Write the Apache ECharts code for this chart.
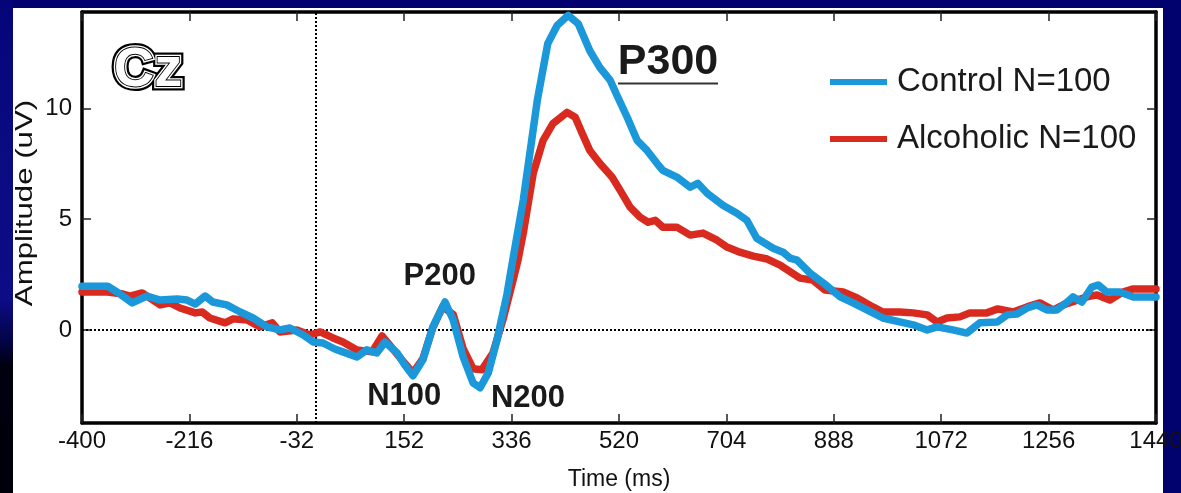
<!DOCTYPE html>
<html><head><meta charset="utf-8">
<script src="https://cdn.jsdelivr.net/npm/echarts@6/dist/echarts.min.js"></script>
<style>
html,body{margin:0;padding:0;overflow:hidden;background:#02026e;}
#strip{position:absolute;left:0;top:0;width:13px;height:493px;
 background:linear-gradient(180deg,#05057a 0px,#0a0a80 120px,#0c0c86 300px,#030340 345px,#00000f 365px,#00000c 493px);}
#panel{position:absolute;left:13px;top:8px;width:1150px;height:485px;background:#fff;}
#c{position:absolute;left:0;top:0;width:1181px;height:493px;}
</style>
</head><body>
<div id="strip"></div><div id="panel"></div><div id="c"></div>
<script>
// ---- data ----
const xTicks = [-400,-216,-32,152,336,520,704,888,1072,1256,1440];
const yTicks = [0,5,10];
const seriesNames = ['Control N=100','Alcoholic N=100'];

const controlTime = [-400,-356,-340,-314,-289,-266,-237,-220,-206,-189,-176,-152,-129,-107,-83,-61,-44,-21,-4,13,33,47,71,88,105,119,140,153,167,184,201,222,236,253,270,282,296,311,328,338,356,380,398,414,433,450,470,487,505,518,534,551,568,585,595,619,642,655,671,698,722,739,756,784,801,813,825,847,870,899,921,955,972,1001,1024,1048,1065,1092,1116,1138,1168,1185,1202,1219,1236,1253,1270,1288,1298,1313,1330,1341,1356,1378,1401,1440];
const controlAmp = [1.97,1.97,1.71,1.22,1.53,1.35,1.40,1.35,1.17,1.53,1.26,1.13,0.81,0.54,0.14,0.00,0.09,-0.23,-0.54,-0.59,-0.86,-0.99,-1.22,-0.90,-1.04,-0.54,-1.04,-1.58,-2.07,-1.35,0.14,1.26,0.45,-1.22,-2.39,-2.61,-1.94,-0.45,1.60,3.15,5.86,10.36,12.93,13.74,14.20,13.83,12.60,11.85,11.26,10.50,9.60,8.56,8.10,7.52,7.20,6.90,6.44,6.62,6.17,5.63,5.27,4.95,4.14,3.69,3.51,3.24,3.15,2.57,2.12,1.49,1.22,0.77,0.54,0.36,0.23,0.00,0.14,0.00,-0.14,0.32,0.36,0.68,0.72,0.99,1.13,0.90,0.90,1.26,1.49,1.26,1.94,2.03,1.71,1.71,1.49,1.49];

const alcoholicTime = [-400,-356,-330,-318,-297,-266,-249,-232,-206,-194,-181,-155,-141,-117,-95,-74,-61,-32,-9,8,30,47,71,97,114,131,148,167,184,201,218,236,253,270,285,304,321,338,347,356,373,390,407,431,445,457,470,487,508,522,539,556,570,582,595,619,642,664,688,705,727,750,774,796,830,852,873,904,928,955,972,1001,1024,1048,1065,1082,1104,1121,1150,1169,1195,1219,1241,1264,1281,1322,1339,1361,1383,1401,1440];
const alcoholicAmp = [1.71,1.71,1.62,1.53,1.67,1.13,1.22,0.99,0.77,0.81,0.54,0.32,0.50,0.45,0.14,0.32,-0.09,0.00,-0.23,-0.09,-0.36,-0.54,-0.90,-0.99,-0.27,-0.81,-1.35,-1.94,-1.30,0.10,1.05,0.70,-0.85,-1.75,-1.80,-1.04,0.45,2.20,3.15,4.37,7.07,8.56,9.32,9.82,9.60,8.87,8.10,7.52,6.90,6.30,5.54,5.09,4.86,4.95,4.64,4.64,4.28,4.37,4.05,3.74,3.51,3.33,3.20,2.93,2.34,2.25,1.80,1.71,1.44,1.04,0.81,0.81,0.77,0.68,0.36,0.54,0.59,0.77,0.77,0.95,0.81,1.04,1.22,0.90,1.13,1.49,1.58,1.35,1.71,1.85,1.85];

const annoText = ['P300','P200','N100','N200'];
const annoTime = [604,213,152,364];
const annoAmp = [12.07,2.43,-3.02,-3.10];
const panelLabel = 'Cz';
const panelLabelAt = [-287,11.7];

// ---- chart ----
const FONT = '"Liberation Sans", Arial, Helvetica, sans-serif';
const BLUE = '#1a98da', RED = '#d92a20';
const chart = echarts.init(document.getElementById('c'), null, {renderer:'canvas'});

const axisLineStyle = {color:'#000', width:3.5};
const tickStyle = {color:'#222', width:1.5};
const xMin = -400, xMax = 1440, yMin = -4.2, yMax = 14.35;
const plain = v => String(v);

const option = {
  backgroundColor:'transparent',
  animation:false,
  grid:{left:82, right:25, top:12, bottom:70, containLabel:false, outerBoundsMode:'none'},
  legend:{
    orient:'vertical', left:825, top:57, itemWidth:57, itemHeight:6, itemGap:17,
    icon:'rect', selectedMode:false,
    textStyle:{fontSize:33, color:'#1a1a1a', fontFamily:FONT, lineHeight:40, padding:[0,0,0,5]},
    data:[{name:seriesNames[0]},{name:seriesNames[1]}]
  },
  xAxis:[{
    type:'value', position:'bottom', min:xMin, max:xMax, interval:184,
    axisLine:{onZero:false, lineStyle:axisLineStyle},
    axisTick:{inside:true, length:9, lineStyle:tickStyle, customValues:xTicks},
    axisLabel:{customValues:xTicks, formatter:plain, fontSize:24, color:'#111', margin:6, fontFamily:FONT},
    splitLine:{show:false},
    name:'Time (ms)', nameLocation:'middle', nameGap:45,
    nameTextStyle:{fontSize:23, color:'#111', fontFamily:FONT}
  },{
    type:'value', position:'top', min:xMin, max:xMax, interval:184,
    axisLine:{onZero:false, lineStyle:axisLineStyle},
    axisTick:{inside:true, length:9, lineStyle:tickStyle, customValues:xTicks},
    axisLabel:{show:false}, splitLine:{show:false}
  }],
  yAxis:[{
    type:'value', position:'left', min:yMin, max:yMax,
    axisLine:{onZero:false, lineStyle:axisLineStyle},
    axisTick:{inside:true, length:9, lineStyle:tickStyle, customValues:yTicks},
    axisLabel:{customValues:yTicks, formatter:plain, fontSize:24, color:'#111', margin:10, fontFamily:FONT},
    splitLine:{show:false}
  },{
    type:'value', position:'right', min:yMin, max:yMax,
    axisLine:{onZero:false, lineStyle:axisLineStyle},
    axisTick:{inside:true, length:9, lineStyle:tickStyle, customValues:yTicks},
    axisLabel:{show:false}, splitLine:{show:false}
  }],
  series:[{
    name:seriesNames[1], type:'line', showSymbol:false, symbol:'none', z:2,
    data:alcoholicTime.map((t,i)=>[t, alcoholicAmp[i]]),
    lineStyle:{color:RED, width:7.5, cap:'round', join:'round'},
    itemStyle:{color:RED},
    markLine:{
      silent:true, symbol:'none', z:1, label:{show:false},
      lineStyle:{color:'#000', type:'dotted', width:2},
      emphasis:{disabled:true},
      data:[{yAxis:0},{xAxis:0}]
    }
  },{
    name:seriesNames[0], type:'line', showSymbol:false, symbol:'none', z:3,
    data:controlTime.map((t,i)=>[t, controlAmp[i]]),
    lineStyle:{color:BLUE, width:7.5, cap:'round', join:'round'},
    itemStyle:{color:BLUE}
  }]
};
chart.setOption(option);

// annotations anchored in data coordinates
const gfx = [];
const cz = chart.convertToPixel({gridIndex:0}, panelLabelAt);
const czBase = {text:panelLabel, fontSize:56, fontWeight:'bold', fontFamily:FONT, align:'center', verticalAlign:'middle'};
gfx.push({type:'text', x:cz[0], y:cz[1], z:10, style:Object.assign({}, czBase, {fill:'#000', stroke:'#000', lineWidth:9})});
gfx.push({type:'text', x:cz[0], y:cz[1], z:11, style:Object.assign({}, czBase, {fill:'#fff', stroke:'#fff', lineWidth:4.5})});
gfx.push({type:'text', x:cz[0], y:cz[1], z:12, style:Object.assign({}, czBase, {fill:'#fff', stroke:'#000', lineWidth:1.8})});

annoText.forEach((txt,i)=>{
  const p = chart.convertToPixel({gridIndex:0}, [annoTime[i], annoAmp[i]]);
  const big = i===0;
  gfx.push({type:'text', x:p[0], y:p[1], z:10,
    style:{text:txt, fontSize:big?43:31, fontWeight:'bold', fontFamily:FONT, fill:'#1a1a1a', align:'center', verticalAlign:'middle'}});
  if (big) {
    gfx.push({type:'line', z:10, shape:{x1:p[0]-50, y1:p[1]+21, x2:p[0]+50, y2:p[1]+21}, style:{stroke:'#333', lineWidth:2.2}});
  }
});
// y-axis title
gfx.push({type:'text', x:25, y:203, rotation:Math.PI/2, scaleX:1.3, z:10,
  style:{text:'Amplitude (uV)', fontSize:24, fontFamily:FONT, fill:'#111', align:'center', verticalAlign:'middle'}});

chart.setOption({graphic:gfx});
</script>
</body></html>
